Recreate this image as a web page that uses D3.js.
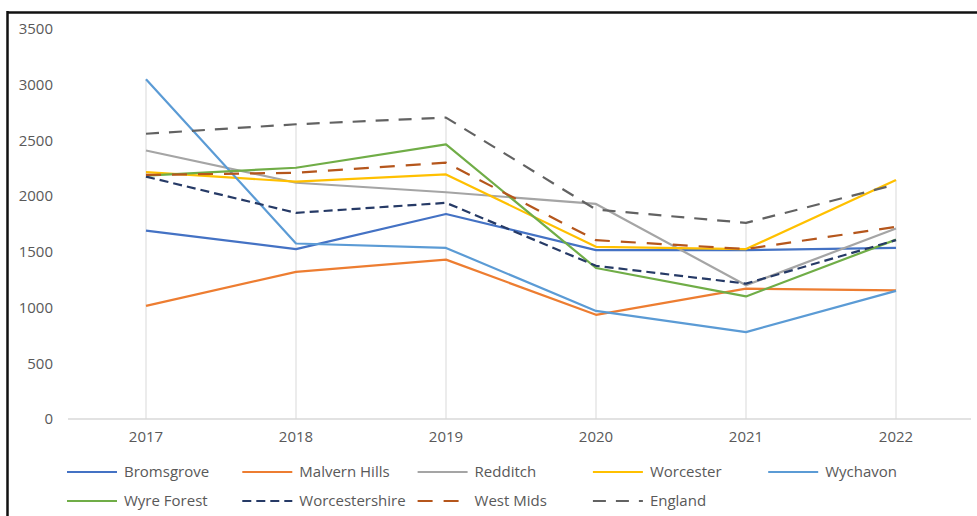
<!DOCTYPE html>
<html>
<head>
<meta charset="utf-8">
<script src="https://cdn.jsdelivr.net/npm/d3@7"></script>
<style>
  html, body { margin: 0; padding: 0; background: #fff; }
  svg { display: block; }
  text { font-family: "Open Sans", "DejaVu Sans", sans-serif; fill: #595959; }
</style>
</head>
<body>
<svg id="chart" width="977" height="516"></svg>
<script>
// Years on the category axis
const years = ["2017", "2018", "2019", "2020", "2021", "2022"];

// Series values per area
const bromsgrove     = [1690, 1525, 1840, 1515, 1515, 1535];
const malvernHills   = [1015, 1320, 1430, 935, 1170, 1155];
const redditch       = [2410, 2120, 2035, 1930, 1200, 1710];
const worcester      = [2215, 2130, 2195, 1545, 1525, 2145];
const wychavon       = [3050, 1575, 1535, 970, 780, 1150];
const wyreForest     = [2185, 2255, 2465, 1355, 1100, 1610];
const worcestershire = [2175, 1850, 1940, 1375, 1215, 1605];
const westMids       = [2190, 2210, 2300, 1605, 1525, 1725];
const england        = [2560, 2645, 2705, 1880, 1760, 2105];

// Value axis ticks
const yTicks = [0, 500, 1000, 1500, 2000, 2500, 3000, 3500];

const series = [
  { name: "Bromsgrove",     values: bromsgrove,     color: "#4472C4", dash: null },
  { name: "Malvern Hills",  values: malvernHills,   color: "#ED7D31", dash: null },
  { name: "Redditch",       values: redditch,       color: "#A5A5A5", dash: null },
  { name: "Worcester",      values: worcester,      color: "#FFC000", dash: null },
  { name: "Wychavon",       values: wychavon,       color: "#5B9BD5", dash: null },
  { name: "Wyre Forest",    values: wyreForest,     color: "#70AD47", dash: null },
  { name: "Worcestershire", values: worcestershire, color: "#263A66", dash: "9,5" },
  { name: "West Mids",      values: westMids,       color: "#B5561C", dash: "15,11" },
  { name: "England",        values: england,        color: "#626262", dash: "13,10" }
];

const svg = d3.select("#chart");

// Outer frame (top and left edges)
svg.append("line").attr("x1", 7).attr("x2", 977).attr("y1", 12.5).attr("y2", 12.5)
  .attr("stroke", "#111").attr("stroke-width", 2.5);
svg.append("line").attr("x1", 7.5).attr("x2", 7.5).attr("y1", 11).attr("y2", 516)
  .attr("stroke", "#111").attr("stroke-width", 2.5);

const x = d3.scaleBand().domain(years).range([71, 971]);
const y = d3.scaleLinear().domain([0, 3500]).range([419, 29]);
const cx = yr => x(yr) + x.bandwidth() / 2;

// Drop lines from the highest series value down to the axis
const tops = years.map((yr, i) => d3.max(series, s => s.values[i]));
svg.append("g").selectAll("line").data(years).join("line")
  .attr("x1", d => cx(d)).attr("x2", d => cx(d))
  .attr("y1", (d, i) => y(tops[i])).attr("y2", y(0))
  .attr("stroke", "#D9D9D9").attr("stroke-width", 1);

// Category axis
const xAxis = svg.append("g").attr("transform", `translate(0,${y(0)})`)
  .call(d3.axisBottom(x).tickSize(0).tickPadding(12));
xAxis.select(".domain").attr("stroke", "#D9D9D9").attr("stroke-width", 1.3)
  .attr("d", "M68,0H971");
xAxis.selectAll("text").style("font-size", "15px").attr("fill", "#595959")
  .style("font-family", '"Open Sans", sans-serif');

// Value axis labels (no axis line)
const yAxis = svg.append("g").attr("transform", "translate(53,0)")
  .call(d3.axisLeft(y).tickValues(yTicks).tickFormat(d3.format("d")).tickSize(0).tickPadding(0));
yAxis.select(".domain").remove();
yAxis.selectAll("text").style("font-size", "15px").attr("fill", "#595959")
  .style("font-family", '"Open Sans", sans-serif');

// Series lines
const line = d3.line().x((d, i) => cx(years[i])).y(d => y(d));
svg.append("g").selectAll("path").data(series).join("path")
  .attr("d", d => line(d.values))
  .attr("fill", "none")
  .attr("stroke", d => d.color)
  .attr("stroke-width", 2.2)
  .attr("stroke-linejoin", "round")
  .attr("stroke-dasharray", d => d.dash);

// Legend: two rows, five columns
const legend = svg.append("g");
const item = legend.selectAll("g").data(series).join("g")
  .attr("transform", (d, i) => `translate(${67 + (i % 5) * 175.3},${i < 5 ? 472 : 501})`);
item.append("line").attr("x1", 0).attr("x2", 50).attr("y1", 0).attr("y2", 0)
  .attr("stroke", d => d.color).attr("stroke-width", 2.2)
  .attr("stroke-dasharray", d => d.dash);
item.append("text").attr("x", 57).attr("y", 0).attr("dy", "0.35em")
  .style("font-size", "15px").text(d => d.name);
</script>
</body>
</html>
